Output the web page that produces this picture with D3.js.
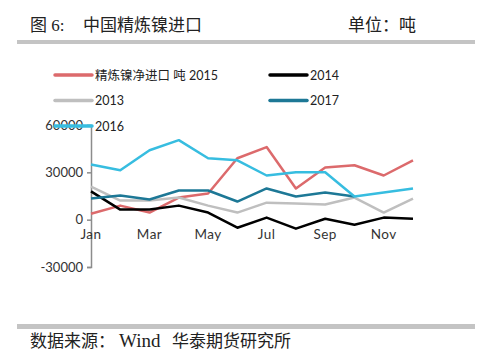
<!DOCTYPE html>
<html>
<head>
<meta charset="utf-8">
<script src="https://cdn.jsdelivr.net/npm/d3@7"></script>
<style>
  body { margin: 0; background: #fff; }
  svg text { font-family: "Lato", "Noto Sans CJK SC", sans-serif; }
  .hdr { font-family: "Liberation Serif", "Noto Sans CJK SC", serif !important; }
</style>
</head>
<body>
<svg width="500" height="362"></svg>
<script>
// months on the x axis, labels shown every other month
var months = ["Jan","Feb","Mar","Apr","May","Jun","Jul","Aug","Sep","Oct","Nov","Dec"];
var yTicks = [-30000, 0, 30000, 60000];

// net refined nickel imports, tonnes
var v2015 = [3800, 8900, 4500, 14000, 16600, 38900, 46000, 19800, 33000, 34500, 28000, 37600];
var v2014 = [17900, 6400, 6400, 8900, 4500, -5100, 1300, -5700, 600, -3200, 1300, 600];
var v2013 = [21000, 12100, 12100, 14000, 8900, 4500, 10800, 10200, 9600, 14000, 4500, 13400];
var v2017 = [13400, 15300, 12800, 18500, 18500, 11500, 19800, 14700, 17200, 14700];
var v2016 = [35000, 31300, 44000, 50400, 38900, 37600, 28000, 30000, 30000, 14700, 17200, 19800];

var series = [
  {name: "精炼镍净进口 吨 2015", values: v2015, color: "#dc6a6c"},
  {name: "2014", values: v2014, color: "#000000"},
  {name: "2013", values: v2013, color: "#bfbfbf"},
  {name: "2017", values: v2017, color: "#1d7896"},
  {name: "2016", values: v2016, color: "#37bde0"}
];

var svg = d3.select("svg");

var x = d3.scalePoint().domain(months).range([91, 413]);
var y = d3.scaleLinear().domain([-30000, 60000]).range([267, 125]);

// header and footer
function hdr(tx, ty, s, size) {
  svg.append("text").attr("class", "hdr")
      .attr("x", tx).attr("y", ty)
      .style("font-size", (size || 17) + "px").attr("fill", "#222")
      .text(s);
}
hdr(30, 31, "图 6:");
hdr(83, 31, "中国精炼镍进口");
hdr(348, 31, "单位：吨");
svg.append("rect").attr("x", 17).attr("y", 40).attr("width", 458).attr("height", 4).attr("fill", "#c4c4c4");
svg.append("rect").attr("x", 17).attr("y", 324).attr("width", 458).attr("height", 5).attr("fill", "#c4c4c4");
hdr(30, 347, "数据来源：");
hdr(119, 347, "Wind", 19);
hdr(172, 347, "华泰期货研究所");

// y axis
var yAxis = d3.axisLeft(y).tickValues(yTicks).tickSize(4).tickPadding(4)
    .tickFormat(function(d) { return String(d); });
var gy = svg.append("g").attr("transform", "translate(91,0)").call(yAxis);
gy.select(".domain").attr("stroke", "#8c8c8c").attr("stroke-width", 1.5);
gy.selectAll(".tick line").attr("stroke", "#8c8c8c").attr("stroke-width", 1.5);
gy.selectAll(".tick text").attr("fill", "#333").style("font-size", "13px").style("font-family", "Lato");

// x labels, sitting below the zero line
svg.append("g").selectAll("text")
  .data(months.filter(function(d, i) { return i % 2 === 0; }))
  .enter().append("text")
    .attr("x", function(d) { return x(d); })
    .attr("y", 239)
    .attr("text-anchor", "middle")
    .attr("fill", "#333")
    .style("font-size", "13.5px")
    .style("letter-spacing", "0.5px")
    .text(function(d) { return d; });

// lines
var line = d3.line()
    .x(function(d, i) { return x(months[i]); })
    .y(function(d) { return y(d); });

svg.append("g").selectAll("path")
  .data(series)
  .enter().append("path")
    .attr("fill", "none")
    .attr("stroke", function(d) { return d.color; })
    .attr("stroke-width", 2.5)
    .attr("stroke-linejoin", "round")
    .attr("d", function(d) { return line(d.values); });

// legend, two columns
var legend = svg.append("g").selectAll("g")
  .data(series)
  .enter().append("g")
    .attr("transform", function(d, i) {
      return "translate(" + (i % 2 === 0 ? 55 : 270) + "," + (75 + Math.floor(i / 2) * 25.5) + ")";
    });
legend.append("line")
    .attr("x1", 0).attr("x2", 37)
    .attr("stroke", function(d) { return d.color; })
    .attr("stroke-width", 3.5)
    .attr("stroke-linecap", "round");
legend.append("text")
    .attr("x", 40).attr("y", 4.5)
    .attr("fill", "#222")
    .style("font-size", "12.5px")
    .text(function(d) { return d.name; });
</script>
</body>
</html>
